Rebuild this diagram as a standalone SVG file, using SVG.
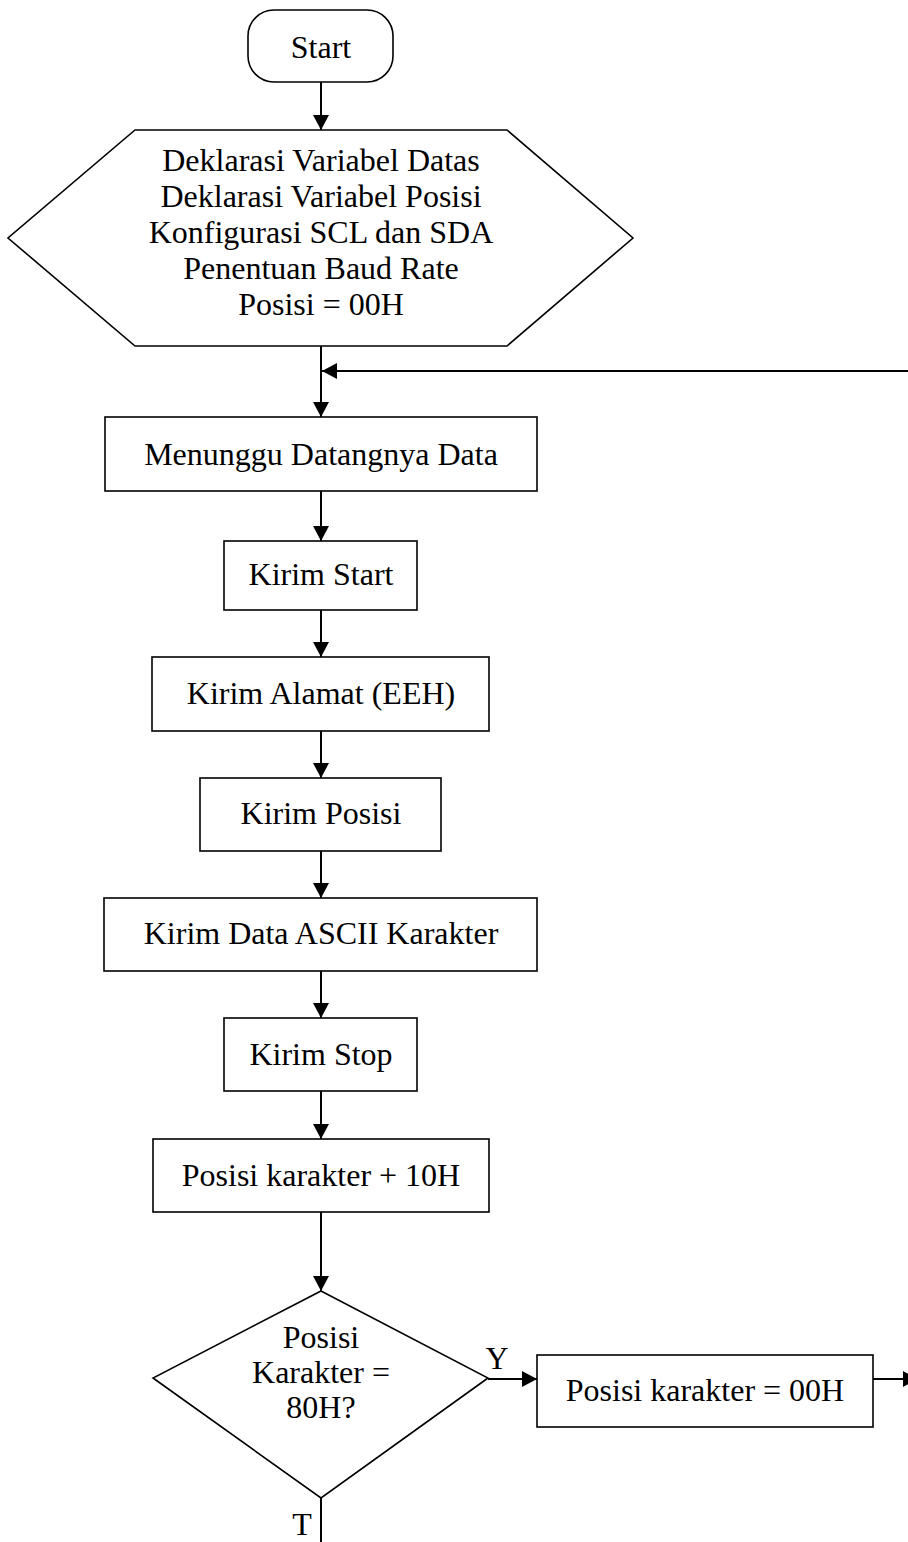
<svg xmlns="http://www.w3.org/2000/svg" width="908" height="1542" viewBox="0 0 908 1542">
<style>
.s{fill:#fff;stroke:#000;stroke-width:1.6}
.t{font-family:"Liberation Serif","Times New Roman",serif;font-size:32px;fill:#000;text-anchor:middle}
.c{fill:none;stroke:#000;stroke-width:2}
</style>
<defs>
<marker id="ah" markerUnits="userSpaceOnUse" markerWidth="15" markerHeight="16" refX="15" refY="8" orient="auto">
<path d="M0,0 L15,8 L0,16 z" fill="#000"/>
</marker>
</defs>
<rect width="908" height="1542" fill="#fff"/>
<g id="connectors">
<line class="c" x1="321" y1="82" x2="321" y2="130" marker-end="url(#ah)"/>
<line class="c" x1="321" y1="346" x2="321" y2="417" marker-end="url(#ah)"/>
<line class="c" x1="912" y1="371" x2="322" y2="371" marker-end="url(#ah)"/>
<line class="c" x1="321" y1="491" x2="321" y2="541" marker-end="url(#ah)"/>
<line class="c" x1="321" y1="610" x2="321" y2="657" marker-end="url(#ah)"/>
<line class="c" x1="321" y1="731" x2="321" y2="778" marker-end="url(#ah)"/>
<line class="c" x1="321" y1="851" x2="321" y2="898" marker-end="url(#ah)"/>
<line class="c" x1="321" y1="971" x2="321" y2="1018" marker-end="url(#ah)"/>
<line class="c" x1="321" y1="1091" x2="321" y2="1139" marker-end="url(#ah)"/>
<line class="c" x1="321" y1="1212" x2="321" y2="1291" marker-end="url(#ah)"/>
<line class="c" x1="488" y1="1379" x2="537" y2="1379" marker-end="url(#ah)"/>
<line class="c" x1="873" y1="1379" x2="918" y2="1379" marker-end="url(#ah)"/>
<line class="c" x1="321" y1="1498" x2="321" y2="1542"/>
<text class="t" x="497" y="1369">Y</text>
<text class="t" x="302" y="1535">T</text>
</g>
<g id="start">
<rect class="s" x="248" y="10" width="145" height="72" rx="26" ry="26"/>
<text class="t" x="321" y="58">Start</text>
</g>
<g id="init">
<polygon class="s" points="135,130 507,130 633,238 507,346 135,346 8,238"/>
<text class="t" x="321" y="171">Deklarasi Variabel Datas</text>
<text class="t" x="321" y="207">Deklarasi Variabel Posisi</text>
<text class="t" x="321" y="243">Konfigurasi SCL dan SDA</text>
<text class="t" x="321" y="279">Penentuan Baud Rate</text>
<text class="t" x="321" y="315">Posisi = 00H</text>
</g>
<g id="wait">
<rect class="s" x="105" y="417" width="432" height="74"/>
<text class="t" x="321" y="465">Menunggu Datangnya Data</text>
</g>
<g id="sendStart">
<rect class="s" x="224" y="541" width="193" height="69"/>
<text class="t" x="321" y="585">Kirim Start</text>
</g>
<g id="sendAddr">
<rect class="s" x="152" y="657" width="337" height="74"/>
<text class="t" x="321" y="704">Kirim Alamat (EEH)</text>
</g>
<g id="sendPos">
<rect class="s" x="200" y="778" width="241" height="73"/>
<text class="t" x="321" y="824">Kirim Posisi</text>
</g>
<g id="sendData">
<rect class="s" x="104" y="898" width="433" height="73"/>
<text class="t" x="321" y="944">Kirim Data ASCII Karakter</text>
</g>
<g id="sendStop">
<rect class="s" x="224" y="1018" width="193" height="73"/>
<text class="t" x="321" y="1065">Kirim Stop</text>
</g>
<g id="incPos">
<rect class="s" x="153" y="1139" width="336" height="73"/>
<text class="t" x="321" y="1186">Posisi karakter + 10H</text>
</g>
<g id="decision">
<polygon class="s" points="321,1291 488,1378 321,1498 153,1378"/>
<text class="t" x="321" y="1348">Posisi</text>
<text class="t" x="321" y="1383">Karakter =</text>
<text class="t" x="321" y="1418">80H?</text>
</g>
<g id="resetPos">
<rect class="s" x="537" y="1355" width="336" height="72"/>
<text class="t" x="705" y="1401">Posisi karakter = 00H</text>
</g>
</svg>
